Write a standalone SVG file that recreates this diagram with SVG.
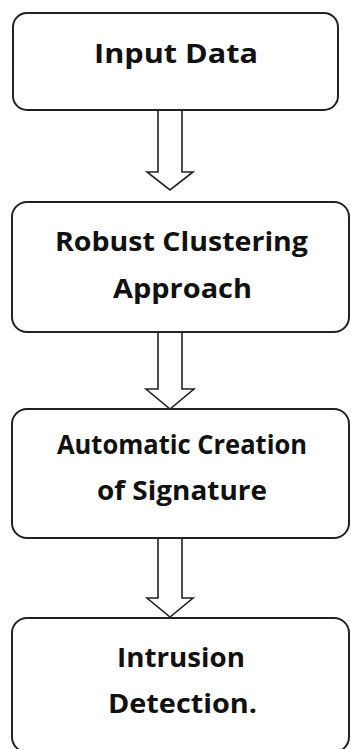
<svg xmlns="http://www.w3.org/2000/svg" width="351" height="749" viewBox="0 0 351 749">
<style>
.box{fill:#fff;stroke:#222;stroke-width:2}
.arr{fill:#fff;stroke:#222;stroke-width:1.6;stroke-linejoin:miter}
.t{font-family:"Open Sans","Liberation Sans",sans-serif;font-weight:700;font-size:27.5px;fill:#111;text-anchor:middle}
</style>
<rect width="351" height="749" fill="#fff"/>
<g id="connectors">
<polygon class="arr" points="158,110 182,110 182,172 193,172 170,190 147,172 158,172"/>
<polygon class="arr" points="158,332 182,332 182,389 194,389 170,409 146,389 158,389"/>
<polygon class="arr" points="158,538 182,538 182,598 193,598 170,617 147,598 158,598"/>
</g>
<g id="node1">
<rect class="box" x="13" y="13" width="325" height="97" rx="14"/>
<text class="t" x="176" y="63" textLength="164" lengthAdjust="spacingAndGlyphs">Input Data</text>
</g>
<g id="node2">
<rect class="box" x="12" y="202" width="337" height="130" rx="15"/>
<text class="t" x="181.5" y="251" textLength="253" lengthAdjust="spacingAndGlyphs">Robust Clustering</text>
<text class="t" x="182.5" y="298" textLength="139" lengthAdjust="spacingAndGlyphs">Approach</text>
</g>
<g id="node3">
<rect class="box" x="12" y="409" width="337" height="129" rx="15"/>
<text class="t" x="182" y="454" textLength="250" lengthAdjust="spacingAndGlyphs">Automatic Creation</text>
<text class="t" x="182" y="500" textLength="170" lengthAdjust="spacingAndGlyphs">of Signature</text>
</g>
<g id="node4">
<rect class="box" x="12" y="618" width="337" height="134" rx="15"/>
<text class="t" x="181" y="667" textLength="128" lengthAdjust="spacingAndGlyphs">Intrusion</text>
<text class="t" x="182.5" y="713" textLength="149" lengthAdjust="spacingAndGlyphs">Detection.</text>
</g>
</svg>
